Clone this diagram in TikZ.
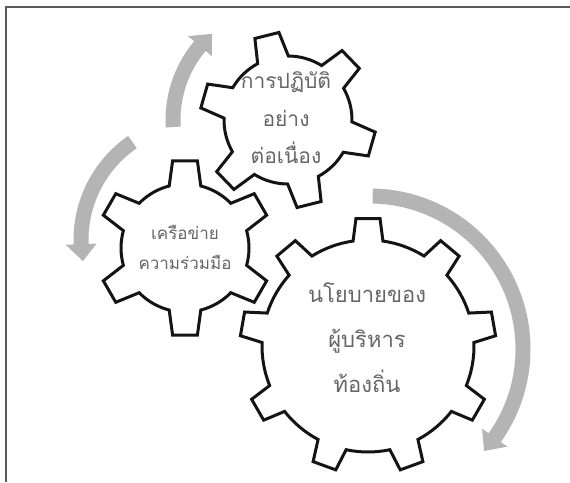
\documentclass[tikz,border=0pt]{standalone}
\usepackage{fontspec}
\newfontfamily\thai[Script=Thai]{Loma}
\definecolor{arrowgray}{HTML}{B4B4B4}
\definecolor{textgray}{HTML}{666666}
\definecolor{framegray}{HTML}{5A5A5A}
\tikzset{
  gearline/.style={draw=black!92, line width=3pt, fill=white},
  geartext/.style={text=textgray, align=center, inner sep=0pt},
  arrowfill/.style={fill=arrowgray},
  framerule/.style={draw=framegray, line width=1.8pt},
}
% cx cy step phi Rt Rr alpha_tip alpha_root lastindex
\newcommand\gearshape[9]{%
  \draw[gearline, shift={(#1,#2)}] ({#4-#8}:#6)
    \foreach \k [evaluate=\k as \t using #4+\k*#3] in {0,...,#9}{
      -- ({\t-#7}:#5) -- ({\t+#7}:#5) -- ({\t+#8}:#6)
      arc[start angle={\t+#8}, end angle={\t+#3-#8}, radius=#6]
    } -- cycle;}
% cx cy r w a b h tipangle
\newcommand\circarrow[8]{%
  \pgfmathsetmacro\ro{#3+#4}%
  \pgfmathsetmacro\ri{#3-#4}%
  \pgfmathsetmacro\ho{#3+#7}%
  \pgfmathsetmacro\hi{#3-#7}%
  \fill[arrowfill, shift={(#1,#2)}] (#5:\ro) arc[start angle=#5, end angle=#6, radius=\ro]
    -- (#6:\ho) -- (#8:#3) -- (#6:\hi) -- (#6:\ri)
    arc[start angle=#6, end angle=#5, radius=\ri] -- cycle;}
\begin{document}
\begin{tikzpicture}[x=1pt,y=-1pt]
\useasboundingbox (0,0) rectangle (570,482);
\fill[white] (0,0) rectangle (570,482);
\draw[framerule] (5.6,482) -- (5.6,6.6) -- (570,6.6);
% arrows
\circarrow{288}{120}{115}{7.5}{176.5}{220}{15.5}{228.5}
\circarrow{200}{240}{119}{7.5}{235.4}{178}{15.5}{169.8}
\circarrow{370}{349}{153}{7.5}{-89}{35.4}{15.5}{41.8}
% gears
\coordinate (gbig) at (368,346);
\coordinate (gtop) at (288,120);
\coordinate (gmid) at (185,248);
\gearshape{368}{346}{40}{-90}{128}{106}{5.4}{8.1}{8}
\gearshape{288}{120}{60}{-104}{88}{64}{8.1}{14.3}{5}
\gearshape{185}{248}{60}{-90}{88}{64}{8.1}{14.3}{5}
% texts
\node[geartext, font=\thai\fontsize{22}{45}\selectfont] (tbig) at (367,338) {นโยบายของ\\ผู้บริหาร\\ท้องถิ่น};
\node[geartext, font=\thai\fontsize{21}{37.5}\selectfont] (ttop) at (286,118) {การปฏิบัติ\\อย่าง\\ต่อเนื่อง};
\node[geartext, font=\thai\fontsize{17}{30}\selectfont] (tmid) at (185,247) {เครือข่าย\\ความร่วมมือ};
\end{tikzpicture}
\end{document}
